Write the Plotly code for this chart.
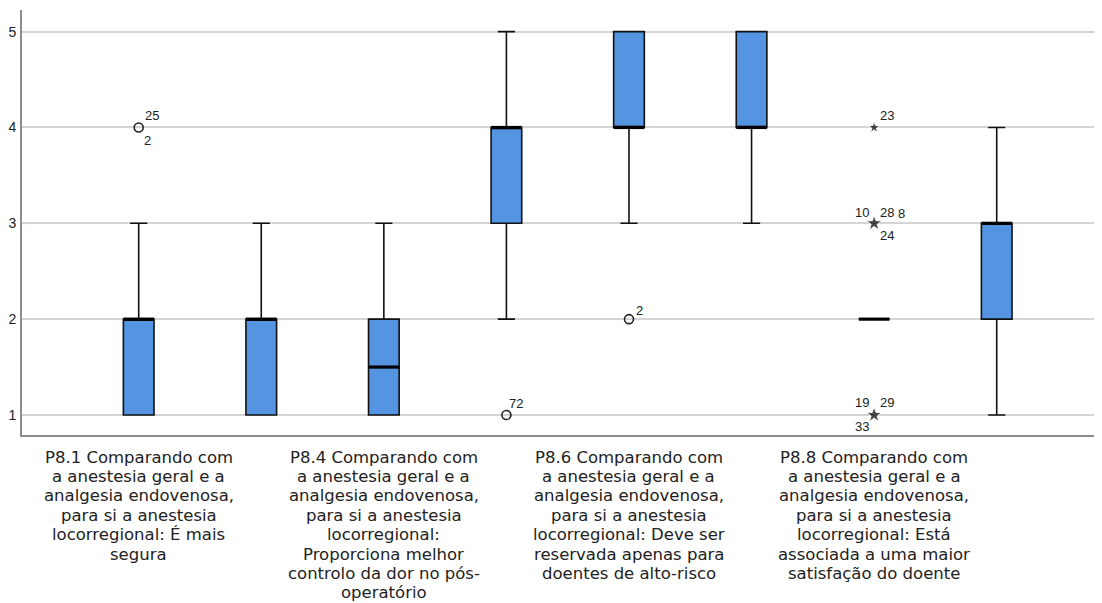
import plotly.graph_objects as go

# ---------------- data ----------------
q1 = [1, 1, 1, 3, 4, 4, 2, 2]
median = [2, 2, 1.5, 4, 4, 4, 2, 3]
q3 = [2, 2, 2, 4, 5, 5, 2, 3]
lower_fence = [1, 1, 1, 2, 3, 3, 2, 1]
upper_fence = [3, 3, 3, 5, 5, 5, 2, 4]

# outliers (circles) and extremes (stars): category index, value
outlier_cat = [0, 3, 4]
outlier_val = [4, 1, 2]
extreme_cat = [6, 6, 6]
extreme_val = [4, 3, 1]

# case labels next to outliers/extremes
case_cat = [0, 0, 3, 4, 6, 6, 6, 6, 6, 6, 6, 6]
case_val = [4, 4, 1, 2, 4, 3, 3, 3, 3, 1, 1, 1]
case_text = ["25", "2", "72", "2", "23", "10", "28", "8", "24", "19", "29", "33"]

# category labels shown (every other category)
label_cat = [0, 2, 4, 6]
label_text = [
    ["P8.1 Comparando com", "a anestesia geral e a", "analgesia endovenosa,",
     "para si a anestesia", "locorregional: É mais", "segura"],
    ["P8.4 Comparando com", "a anestesia geral e a", "analgesia endovenosa,",
     "para si a anestesia", "locorregional:", "Proporciona melhor",
     "controlo da dor no pós-", "operatório"],
    ["P8.6 Comparando com", "a anestesia geral e a", "analgesia endovenosa,",
     "para si a anestesia", "locorregional: Deve ser", "reservada apenas para",
     "doentes de alto-risco"],
    ["P8.8 Comparando com", "a anestesia geral e a", "analgesia endovenosa,",
     "para si a anestesia", "locorregional: Está", "associada a uma maior",
     "satisfação do doente"],
]

y_ticks = [1, 2, 3, 4, 5]

# ---------------- style ----------------
BOX_W = 0.25
FILL = "#5594E0"
LINE = "#111111"
FONT = "Liberation Sans, Arial, sans-serif"
LABEL_FONT = "DejaVu Sans, sans-serif"
# pixel offsets of case labels relative to their point (dx, dy with +dy = down)
case_offsets = [(13.5, -12), (8.5, 13), (10, -11), (11, -9), (12.5, -12),
                (-12, -11), (12.5, -11), (27, -10), (12.5, 12),
                (-12, -12), (12.5, -12), (-12, 12)]

xs = list(range(len(q1)))

fig = go.Figure()

fig.add_trace(go.Box(
    x=xs, q1=q1, median=median, q3=q3,
    lowerfence=lower_fence, upperfence=upper_fence,
    boxpoints=False, width=BOX_W, whiskerwidth=0.56,
    fillcolor=FILL, line=dict(color=LINE, width=1.6),
    showlegend=False, hoverinfo="skip",
))

# thick median lines
mx, my = [], []
for i, m in zip(xs, median):
    mx += [i - BOX_W / 2, i + BOX_W / 2, None]
    my += [m, m, None]
fig.add_trace(go.Scatter(x=mx, y=my, mode="lines",
                         line=dict(color="#000000", width=3.2),
                         showlegend=False, hoverinfo="skip"))

# outliers
fig.add_trace(go.Scatter(x=outlier_cat, y=outlier_val, mode="markers",
                         marker=dict(symbol="circle-open", size=9,
                                     color="#222222", line=dict(width=1.6)),
                         showlegend=False, hoverinfo="skip"))
# extremes
fig.add_trace(go.Scatter(x=extreme_cat, y=extreme_val, mode="markers",
                         marker=dict(symbol="star", size=[9, 12, 12],
                                     color="#000000"),
                         showlegend=False, hoverinfo="skip"))

annotations = []
for c, v, t, (dx, dy) in zip(case_cat, case_val, case_text, case_offsets):
    annotations.append(dict(x=c, y=v, xref="x", yref="y", text=t,
                            showarrow=False, xshift=dx, yshift=-dy,
                            xanchor="center", yanchor="middle",
                            font=dict(family=FONT, size=13, color="#222222")))

LINE_STEP = 19.4
FIRST = 22
for c, lines in zip(label_cat, label_text):
    for k, ln in enumerate(lines):
        annotations.append(dict(x=c, y=0, xref="x", yref="paper", text=ln,
                                showarrow=False, yshift=-(FIRST + k * LINE_STEP),
                                xanchor="center", yanchor="middle", borderpad=0,
                                font=dict(family=LABEL_FONT, size=16.5,
                                          color="#222222")))

fig.update_layout(
    width=1094, height=595,
    margin=dict(l=14, r=0, t=2, b=168),
    paper_bgcolor="white", plot_bgcolor="white",
    annotations=annotations,
    xaxis=dict(range=[-0.952, 7.859], showticklabels=False, showgrid=False,
               zeroline=False, showline=True, linecolor="#8c8c8c", linewidth=2,
               ticks=""),
    yaxis=dict(range=[0.791, 5.226], tickvals=y_ticks,
               ticktext=[str(v) for v in y_ticks],
               showgrid=True, gridcolor="#d4d4d4", gridwidth=1.5,
               zeroline=False, showline=True, linecolor="#8c8c8c", linewidth=2,
               ticks="", ticklabelstandoff=1, automargin=False,
               tickfont=dict(family=FONT, size=14, color="#222222")),
)

fig.write_html("out.html")
